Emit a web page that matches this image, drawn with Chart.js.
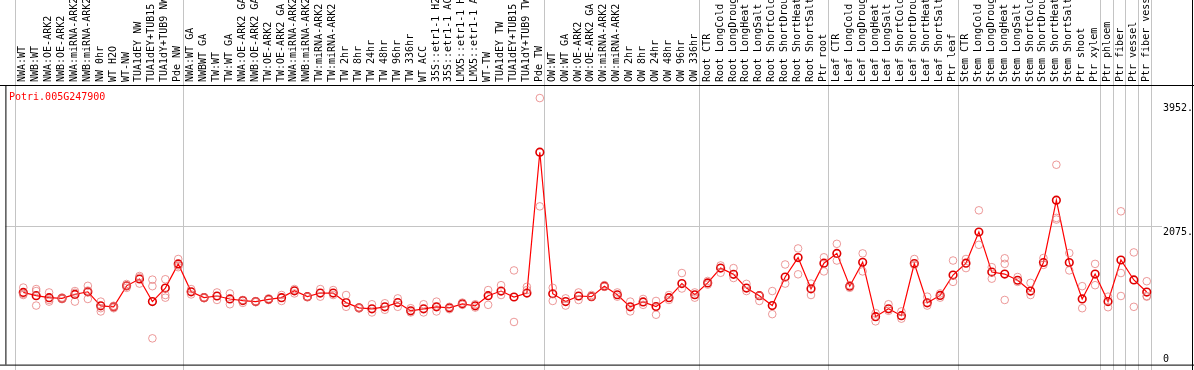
<!DOCTYPE html>
<html>
<head>
<meta charset="utf-8">
<script src="https://cdn.jsdelivr.net/npm/chart.js@4/dist/chart.umd.min.js"></script>
<style>
  html, body { margin: 0; padding: 0; background: #fff; }
  canvas { display: block; }
</style>
</head>
<body>
<canvas id="c" width="1194" height="370"></canvas>
<script>
// sample labels (full text; the top of the canvas clips the long ones)
const labels = [
  'NWA:WT', 'NWB:WT', 'NWA:OE-ARK2', 'NWB:OE-ARK2', 'NWA:miRNA-ARK2', 'NWB:miRNA-ARK2',
  'NW 0hr', 'WT H2O', 'WT-NW', 'TUA1dEY NW', 'TUA1dEY+TUB15', 'TUA1dY+TUB9 NW', 'Pde NW',
  'NWA:WT GA', 'NWBWT GA', 'TW:WT', 'TW:WT GA', 'NWA:OE-ARK2 GA', 'NWB:OE-ARK2 GA',
  'TW:OE-ARK2', 'TW:OE-ARK2 GA', 'NWA:miRNA-ARK2', 'NWB:miRNA-ARK2', 'TW:miRNA-ARK2',
  'TW:miRNA-ARK2', 'TW 2hr', 'TW 8hr', 'TW 24hr', 'TW 48hr', 'TW 96hr', 'TW 336hr',
  'WT ACC', '35S::etr1-1 H2O', '35S::etr1-1 ACC', 'LMX5::etr1-1 H2O', 'LMX5::etr1-1 ACC',
  'WT-TW', 'TUA1dEY TW', 'TUA1dEY+TUB15', 'TUA1dY+TUB9 TW', 'Pde TW',
  'OW:WT', 'OW:WT GA', 'OW:OE-ARK2', 'OW:OE-ARK2 GA', 'OW:miRNA-ARK2', 'OW:miRNA-ARK2',
  'OW 2hr', 'OW 8hr', 'OW 24hr', 'OW 48hr', 'OW 96hr', 'OW 336hr',
  'Root CTR', 'Root LongCold', 'Root LongDrought', 'Root LongHeat', 'Root LongSalt',
  'Root ShortCold', 'Root ShortDrought', 'Root ShortHeat', 'Root ShortSalt', 'Ptr root',
  'Leaf CTR', 'Leaf LongCold', 'Leaf LongDrought', 'Leaf LongHeat', 'Leaf LongSalt',
  'Leaf ShortCold', 'Leaf ShortDrought', 'Leaf ShortHeat', 'Leaf ShortSalt', 'Ptr leaf',
  'Stem CTR', 'Stem LongCold', 'Stem LongDrought', 'Stem LongHeat', 'Stem LongSalt',
  'Stem ShortCold', 'Stem ShortDrought', 'Stem ShortHeat', 'Stem ShortSalt', 'Ptr shoot',
  'Ptr xylem', 'Ptr phloem', 'Ptr fiber', 'Ptr vessel', 'Ptr fiber vessel'
];

// index of the last sample in each group (-1 = line before the first one)
const groupEnds = [-1, 12, 40, 52, 62, 72, 83, 84, 85, 86, 87];

const means = [
  1072, 1023, 993, 982, 1042, 1082, 869, 854, 1172, 1276, 933, 1138, 1505,
  1082, 993, 1018, 973, 948, 933, 967, 993, 1097, 1008, 1063, 1063, 918, 839, 824,
  854, 918, 794, 824, 854, 839, 899, 869, 1023, 1093, 1003, 1063, 3198,
  1052, 933, 1018, 1008, 1167, 1037, 854, 928, 858, 993, 1206, 1037,
  1217, 1441, 1347, 1138, 1023, 873, 1306, 1600, 1127, 1515,
  1664, 1167, 1530, 705, 824, 720, 1511, 914, 1027, 1336,
  1515, 1988, 1381, 1351, 1257, 1093, 1526, 2471, 1526, 973, 1351,
  933, 1564, 1261, 1078
];

const rep1 = [
  1146, 1123, 1072, 995, 1093, 1172, 933, 854, 1172, 1321, 1266, 1272, 1579,
  1123, 1000, 1072, 1057, 958, 940, 982, 1033, 1123, 1008, 1123, 1108, 1033, 839, 893,
  908, 982, 833, 893, 933, 854, 918, 893, 1108, 1182, 1406, 1157, 4019,
  1142, 982, 1072, 1008, 1182, 1072, 933, 973, 943, 1033, 1366, 1072,
  1246, 1481, 1441, 1202, 1023, 1093, 1496, 1739, 1206, 1605,
  1809, 1182, 1664, 758, 893, 784, 1579, 1008, 1057, 1556,
  1579, 2317, 1455, 1590, 1306, 1217, 1594, 3008, 1669, 1167, 1505,
  1008, 2302, 1679, 1242
];

const rep2 = [
  1033, 1093, 933, 970, 1067, 973, 784, 833, 1142, 1206, 1167, 1033, 1455,
  1042, 985, 958, 893, 914, 925, 958, 943, 1057, 1000, 1008, 1033, 854, 830, 769,
  809, 854, 769, 769, 784, 818, 884, 843, 884, 1033, 624, 1108, 2377,
  943, 873, 958, 1033, 1157, 1008, 784, 884, 734, 958, 1132, 993,
  1191, 1370, 1291, 1093, 943, 743, 1206, 1347, 1033, 1391,
  1556, 1142, 1391, 634, 794, 675, 1490, 873, 993, 1232,
  1441, 1794, 1281, 1505, 1232, 1033, 1490, 2202, 1406, 833, 1182,
  848, 1366, 854, 1008
];

// third replicate only for the first group and a few later samples
const rep3 = [
  1050, 873, 958, 982, 933, 1100, 833, 870, 1200, 1300, 376, 993, 1480,
  null, null, null, null, null, null, null, null, null, null, null, null, null, null, null,
  null, null, null, null, null, null, null, null, null, null, null, null, null,
  null, null, null, null, null, null, null, null, null, null, null, null,
  null, null, null, null, null, null, null, null, null, null,
  null, null, null, null, null, null, null, null, null, null,
  null, null, null, 958, null, null, null, 2177, null, null, null,
  null, 1018, null, 1018
];

const yTicks = [0, 2075, 3952];
const geneName = 'Potri.005G247900';

const MONO = '10px "DejaVu Sans Mono", "Liberation Mono", monospace';

function toPoints(arr) {
  const pts = [];
  arr.forEach((v, i) => { if (v !== null && v !== undefined) pts.push({ x: i, y: v }); });
  return pts;
}

const repStyle = {
  showLine: false,
  pointRadius: 3.8,
  pointBorderWidth: 1,
  pointBorderColor: 'rgba(228,110,110,0.7)',
  pointBackgroundColor: 'rgba(0,0,0,0)',
  pointHoverRadius: 3.8
};

// gray group lines, horizontal grid line, black frame
const framePlugin = {
  id: 'frame',
  beforeDatasetsDraw(chart) {
    const { ctx, chartArea: a, scales: { x, y } } = chart;
    ctx.save();
    ctx.fillStyle = '#c4c4c4';
    for (const k of groupEnds) {
      const px = Math.round(x.getPixelForValue(k + 0.35));
      ctx.fillRect(px, 0, 1, chart.height);
    }
    const gy = Math.round(y.getPixelForValue(2075));
    ctx.fillRect(a.left, gy, 1162 - a.left, 1);
    ctx.restore();
  },
  afterDatasetsDraw(chart) {
    const { ctx, chartArea: a, scales: { x, y } } = chart;
    ctx.save();
    ctx.fillStyle = '#000';
    ctx.fillRect(0, a.top, chart.width, 1);
    ctx.fillRect(0, a.bottom, chart.width, 1);
    ctx.fillRect(a.left, a.top, 1, a.bottom - a.top);
    ctx.fillRect(chart.width - 2, 0, 1, chart.height);

    // sample names, rotated, reading upwards
    ctx.font = MONO;
    ctx.textAlign = 'left';
    ctx.textBaseline = 'middle';
    labels.forEach((t, i) => {
      const px = x.getPixelForValue(i);
      ctx.save();
      ctx.translate(Math.round(px) - 0.5, a.top - 3);
      ctx.rotate(-Math.PI / 2);
      ctx.fillText(t, 0, 0);
      ctx.restore();
    });

    // value labels on the right
    ctx.textBaseline = 'alphabetic';
    for (const t of yTicks) {
      const py = Math.min(y.getPixelForValue(t) + 8.5, a.bottom - 3);
      ctx.fillText(t === 0 ? '0' : t + '.', 1163, py);
    }

    ctx.fillStyle = '#ff0000';
    ctx.textBaseline = 'middle';
    ctx.fillText(geneName, 9, a.top + 12);
    ctx.restore();
  }
};

new Chart(document.getElementById('c'), {
  type: 'scatter',
  data: {
    datasets: [
      { data: toPoints(rep1), ...repStyle },
      { data: toPoints(rep2), ...repStyle },
      { data: toPoints(rep3), ...repStyle },
      {
        data: toPoints(means),
        showLine: true,
        borderColor: '#ff0000',
        borderWidth: 1.2,
        tension: 0,
        pointRadius: 3.8,
        pointBorderWidth: 1.6,
        pointBorderColor: '#e00000',
        pointBackgroundColor: 'rgba(0,0,0,0)',
        pointHoverRadius: 3.8
      }
    ]
  },
  options: {
    responsive: false,
    animation: false,
    devicePixelRatio: 1,
    layout: { padding: { left: 1, right: 1, top: 85, bottom: 1 } },
    plugins: { legend: { display: false }, tooltip: { enabled: false } },
    events: [],
    scales: {
      x: { type: 'linear', min: -1.384, max: 90.24, display: false },
      y: { type: 'linear', min: -22, max: 4217, display: false }
    }
  },
  plugins: [framePlugin]
});
</script>
</body>
</html>
